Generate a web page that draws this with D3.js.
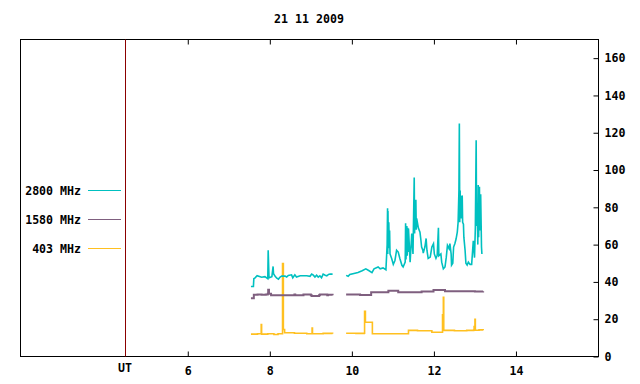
<!DOCTYPE html>
<html><head><meta charset="utf-8">
<script src="https://cdn.jsdelivr.net/npm/d3@7"></script>
<style>body{margin:0;background:#fff}svg text{font-family:"DejaVu Sans Mono",monospace;font-weight:bold;font-size:11.6px;fill:#000}</style>
</head><body><svg id="c" width="640" height="384"></svg>
<script>
const title = "21 11 2009";
const xTicks = [6, 8, 10, 12, 14];
const yTicks = [0, 20, 40, 60, 80, 100, 120, 140, 160];
const utHour = 4.47;
const seriesNames = ["2800 MHz", "1580 MHz", "403 MHz"];
const seriesColors = ["#00c0c0", "#7f5f7f", "#ffc020"];

const t2800 = [7.54,7.60,7.61,7.64,7.69,7.80,7.88,7.95,7.96,7.98,8.05,8.08,8.09,8.13,8.17,8.21,8.25,8.29,8.37,8.41,8.45,8.53,8.56,8.61,8.65,8.74,8.82,8.90,8.98,9.02,9.06,9.10,9.14,9.18,9.22,9.26,9.30,9.35,9.39,9.43,9.47,9.53,null,
9.86,9.91,9.95,10.05,10.15,10.25,10.34,10.42,10.49,10.54,10.64,10.69,10.76,10.83,10.86,10.87,10.875,10.88,10.89,10.90,10.91,10.92,10.93,10.97,11.01,11.05,11.09,11.13,11.17,11.22,11.25,11.30,11.31,11.32,11.34,11.35,11.36,11.37,11.38,11.42,11.46,11.49,11.52,11.53,11.54,11.55,11.56,11.57,11.58,11.62,11.66,11.68,11.70,11.73,11.74,11.78,11.81,11.83,11.86,11.91,11.95,11.99,12.01,12.05,12.08,12.11,12.12,12.17,12.19,12.23,12.27,12.30,12.33,12.37,12.39,12.42,12.43,12.46,12.48,12.51,12.54,12.57,12.59,12.61,12.62,12.63,12.64,12.645,12.65,12.66,12.68,12.69,12.70,12.72,12.73,12.76,12.78,12.81,12.84,12.88,12.92,12.96,12.99,13.01,13.03,13.04,13.06,13.07,13.08,13.09,13.10,13.11,13.12,13.13,13.14,13.16,13.17];
const v2800 = [37.5,37.5,41.7,42.2,43.3,42.5,42.8,41.7,57,42.2,42.8,48.3,44.4,43,42,41.5,42.6,43.1,43.1,42.6,43.5,43.8,42.2,43.8,42.6,43.3,43.3,43.3,43,44.2,43.6,42.6,43.6,42.6,43.3,42.2,44.2,43.6,43.3,44,44.2,44.2,null,
43.5,43,44,44.5,45,46,47,46,45,47,48,47,47.5,46.5,60,79.5,55,78,58,72,62,67.6,55,52.6,49.4,51.5,57,56,52.6,48.9,48,50.6,71.4,52,70,54,69,56,68.6,50.6,66,55,96,66,80,70,84,68,74,69,66.7,63,58.7,57,55.5,58.7,63.3,57,52.6,53.3,58.7,60.5,55,52.6,54.2,69,54,55,50.6,47,48,53,59.6,57.8,60.5,55,49,50,58.7,60.5,63,66.7,72,89,125,72,89,75,86,74,80,86.4,72,71,64,57,50,49,50.6,49.4,49.4,62,53,69,116,70,74.8,60,92,64,80,91,67.6,78,87,58.7,55];

const t1580 = [7.54,7.61,7.70,7.80,7.90,7.95,7.96,7.98,8.03,8.2,8.4,8.6,8.62,8.8,8.82,9.0,9.02,9.2,9.22,9.4,9.42,9.53,null,9.86,10.2,10.47,10.6,10.85,10.89,11.0,11.13,11.5,11.7,11.99,12.27,12.5,12.8,13.0,13.2];
const v1580 = [31.3,33.1,33.3,33.1,33.3,33.6,35.8,33.6,32.8,32.8,32.9,33.3,32.8,32.8,33.3,32.9,32.5,32.8,33.3,32.8,33.1,32.8,null,33.3,33.0,34.4,34.4,34.4,35.3,35.3,34.5,34.5,34.8,35.6,35.0,35.0,35.0,34.8,35.0];

const t403 = [7.54,7.70,7.79,7.80,7.95,8.10,8.20,8.30,8.31,8.33,8.36,8.60,8.90,9.03,9.04,9.30,9.53,null,9.86,10.10,10.30,10.31,10.33,10.50,11.00,11.38,11.60,11.95,12.20,12.21,12.23,12.24,12.50,12.80,12.97,12.98,13.00,13.01,13.10,13.20];
const v403 = [12.0,12.2,17.2,12.0,12.2,11.8,12.2,12.2,49.8,14.5,12.7,12.5,12.2,15.2,12.2,12.4,12.2,null,12.5,12.4,12.5,24.2,18.4,12.2,12.2,14.0,13.8,13.0,13.0,22.4,31.7,14.0,13.8,14.0,14.2,16.0,19.9,14.1,14.3,14.1];

const svg = d3.select("#c");
const L = 20, R = 598, T = 39.5, B = 356.5;
const x = d3.scaleLinear().domain([1.91, 16]).range([L, R]);
const y = d3.scaleLinear().domain([0, 170]).range([B, T]);

svg.append("text").attr("x", (L + R) / 2).attr("y", 23).attr("text-anchor", "middle").text(title);

svg.append("rect").attr("x", L + 0.5).attr("y", T).attr("width", R - L).attr("height", B - T)
  .attr("fill", "none").attr("stroke", "#000");

const gBottom = svg.append("g").attr("transform", `translate(0,${B})`)
  .call(d3.axisBottom(x).tickValues(xTicks).tickSize(-5).tickPadding(10).tickFormat(d3.format("d")));
const gTop = svg.append("g").attr("transform", `translate(0,${T})`)
  .call(d3.axisTop(x).tickValues(xTicks).tickSize(-5).tickFormat(""));
const gRight = svg.append("g").attr("transform", `translate(${R + 0.5},0)`)
  .call(d3.axisRight(y).tickValues(yTicks).tickSize(-5).tickPadding(6));
[gBottom, gTop, gRight].forEach(g => { g.select(".domain").remove(); g.selectAll("line").attr("stroke", "#000"); g.attr("font-family", null).attr("font-size", null); });

const utX = Math.round(x(utHour)) + 0.5;
svg.append("line").attr("x1", utX).attr("x2", utX)
  .attr("y1", T).attr("y2", B).attr("stroke", "#8b0000");
svg.append("text").attr("x", x(utHour)).attr("y", 372).attr("text-anchor", "middle").text("UT");

const series = [[t2800, v2800], [t1580, v1580], [t403, v403]];
const widths = [1.6, 2, 1.6];
const curves = [d3.curveLinear, d3.curveStepAfter, d3.curveStepAfter];
for (let i = series.length - 1; i >= 0; i--) {
  const s = series[i];
  const pts = s[0].map((t, k) => [t, s[1][k]]);
  const line = d3.line().defined(d => d[0] !== null && d[1] !== null)
    .x(d => x(d[0])).y(d => y(d[1])).curve(curves[i]);
  svg.append("path").attr("d", line(pts)).attr("fill", "none")
    .attr("stroke", seriesColors[i]).attr("stroke-width", widths[i]).attr("stroke-linejoin", "miter");
}

const legY = [190.5, 219.5, 248.5];
seriesNames.forEach((n, i) => {
  svg.append("text").attr("x", 81).attr("y", legY[i] + 4).attr("text-anchor", "end").text(n);
  svg.append("line").attr("x1", 88).attr("x2", 121).attr("y1", legY[i]).attr("y2", legY[i])
    .attr("stroke", seriesColors[i]).attr("stroke-width", 1);
});
</script></body></html>
